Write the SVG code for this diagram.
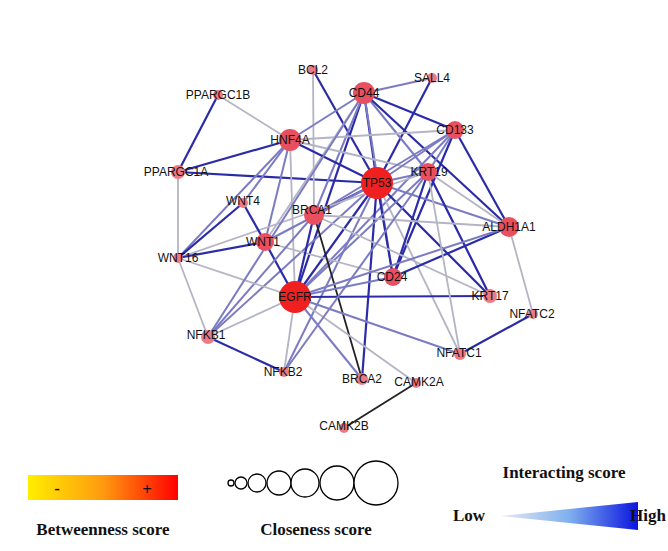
<svg xmlns="http://www.w3.org/2000/svg" width="668" height="551" viewBox="0 0 668 551">
<defs>
<linearGradient id="bw" x1="0" x2="1"><stop offset="0" stop-color="#ffee00"/><stop offset="0.5" stop-color="#ff9a10"/><stop offset="1" stop-color="#ff0000"/></linearGradient>
<linearGradient id="ig" x1="0" x2="1"><stop offset="0" stop-color="#e8ecf4"/><stop offset="0.5" stop-color="#7fb0ee"/><stop offset="1" stop-color="#0a14e0"/></linearGradient>
<style>
.d{stroke:#2b2ba8;stroke-width:2.2}
.m{stroke:#7b7bc4;stroke-width:2}
.l{stroke:#b4b4c4;stroke-width:1.8}
.k{stroke:#222;stroke-width:1.8}
.n{fill:#e85060}
.b{fill:#f02020}
.p{fill:#ec7a84}
text{font-family:"Liberation Sans",Arial,sans-serif;font-size:12px;fill:#111;text-anchor:middle}
.lg{font-family:"Liberation Serif","Times New Roman",serif;font-weight:bold;font-size:17px}
</style>
</defs>
<rect width="668" height="551" fill="#fff"/>
<g id="connectors" fill="none">
<line class="d" x1="218" y1="95" x2="178" y2="172"/>
<line class="l" x1="218" y1="95" x2="290" y2="140"/>
<line class="d" x1="178" y1="172" x2="290" y2="140"/>
<line class="d" x1="178" y1="172" x2="377" y2="183"/>
<line class="l" x1="178" y1="172" x2="178" y2="258"/>
<line class="d" x1="313" y1="70" x2="377" y2="183"/>
<line class="l" x1="313" y1="70" x2="314" y2="215"/>
<line class="m" x1="432" y1="78" x2="364" y2="93"/>
<line class="d" x1="432" y1="78" x2="377" y2="183"/>
<line class="d" x1="364" y1="93" x2="377" y2="183"/>
<line class="d" x1="364" y1="93" x2="455" y2="130"/>
<line class="m" x1="364" y1="93" x2="428" y2="172"/>
<line class="d" x1="364" y1="93" x2="509" y2="227"/>
<line class="m" x1="364" y1="93" x2="290" y2="140"/>
<line class="d" x1="364" y1="93" x2="295" y2="297"/>
<line class="m" x1="364" y1="93" x2="314" y2="215"/>
<line class="l" x1="364" y1="93" x2="265" y2="242"/>
<line class="m" x1="364" y1="93" x2="393" y2="277"/>
<line class="l" x1="290" y1="140" x2="455" y2="130"/>
<line class="d" x1="290" y1="140" x2="377" y2="183"/>
<line class="m" x1="290" y1="140" x2="178" y2="258"/>
<line class="m" x1="290" y1="140" x2="265" y2="242"/>
<line class="l" x1="290" y1="140" x2="295" y2="297"/>
<line class="l" x1="290" y1="140" x2="428" y2="172"/>
<line class="m" x1="455" y1="130" x2="377" y2="183"/>
<line class="d" x1="455" y1="130" x2="509" y2="227"/>
<line class="m" x1="455" y1="130" x2="295" y2="297"/>
<line class="d" x1="455" y1="130" x2="393" y2="277"/>
<line class="m" x1="455" y1="130" x2="314" y2="215"/>
<line class="m" x1="455" y1="130" x2="428" y2="172"/>
<line class="m" x1="377" y1="183" x2="428" y2="172"/>
<line class="d" x1="377" y1="183" x2="295" y2="297"/>
<line class="d" x1="377" y1="183" x2="393" y2="277"/>
<line class="d" x1="377" y1="183" x2="314" y2="215"/>
<line class="m" x1="377" y1="183" x2="509" y2="227"/>
<line class="d" x1="377" y1="183" x2="490" y2="296"/>
<line class="m" x1="377" y1="183" x2="208" y2="337"/>
<line class="m" x1="377" y1="183" x2="265" y2="242"/>
<line class="m" x1="377" y1="183" x2="284" y2="372"/>
<line class="d" x1="377" y1="183" x2="362" y2="379"/>
<line class="l" x1="377" y1="183" x2="460" y2="354"/>
<line class="l" x1="428" y1="172" x2="509" y2="227"/>
<line class="d" x1="428" y1="172" x2="490" y2="296"/>
<line class="m" x1="428" y1="172" x2="295" y2="297"/>
<line class="d" x1="428" y1="172" x2="393" y2="277"/>
<line class="l" x1="428" y1="172" x2="178" y2="258"/>
<line class="d" x1="243" y1="203" x2="178" y2="258"/>
<line class="d" x1="243" y1="203" x2="265" y2="242"/>
<line class="m" x1="243" y1="203" x2="290" y2="140"/>
<line class="d" x1="265" y1="242" x2="178" y2="258"/>
<line class="d" x1="265" y1="242" x2="295" y2="297"/>
<line class="l" x1="265" y1="242" x2="393" y2="277"/>
<line class="d" x1="314" y1="215" x2="295" y2="297"/>
<line class="k" x1="314" y1="215" x2="362" y2="379"/>
<line class="l" x1="314" y1="215" x2="509" y2="227"/>
<line class="l" x1="314" y1="215" x2="490" y2="296"/>
<line class="m" x1="314" y1="215" x2="208" y2="337"/>
<line class="d" x1="509" y1="227" x2="393" y2="277"/>
<line class="m" x1="509" y1="227" x2="295" y2="297"/>
<line class="l" x1="509" y1="227" x2="533" y2="314"/>
<line class="l" x1="178" y1="258" x2="208" y2="337"/>
<line class="l" x1="178" y1="258" x2="295" y2="297"/>
<line class="d" x1="295" y1="297" x2="490" y2="296"/>
<line class="l" x1="295" y1="297" x2="208" y2="337"/>
<line class="l" x1="295" y1="297" x2="284" y2="372"/>
<line class="m" x1="295" y1="297" x2="362" y2="379"/>
<line class="m" x1="295" y1="297" x2="460" y2="354"/>
<line class="l" x1="295" y1="297" x2="416" y2="383"/>
<line class="m" x1="295" y1="297" x2="393" y2="277"/>
<line class="d" x1="208" y1="337" x2="284" y2="372"/>
<line class="m" x1="208" y1="337" x2="364" y2="93"/>
<line class="m" x1="284" y1="372" x2="428" y2="172"/>
<line class="d" x1="460" y1="354" x2="533" y2="314"/>
<line class="l" x1="460" y1="354" x2="428" y2="172"/>
<line class="k" x1="416" y1="383" x2="344" y2="428"/>
</g>
<g id="nodes">
<g id="BCL2"><circle class="p" cx="313" cy="70" r="5"/><text x="313" y="74">BCL2</text></g>
<g id="SALL4"><circle class="p" cx="432" cy="78" r="5"/><text x="432" y="82">SALL4</text></g>
<g id="PPARGC1B"><circle class="p" cx="218" cy="95" r="5"/><text x="218" y="99">PPARGC1B</text></g>
<g id="CD44"><circle class="n" cx="364" cy="93" r="11"/><text x="364" y="97">CD44</text></g>
<g id="HNF4A"><circle class="n" cx="290" cy="140" r="11"/><text x="290" y="144">HNF4A</text></g>
<g id="CD133"><circle class="n" cx="455" cy="130" r="9"/><text x="455" y="134">CD133</text></g>
<g id="PPARGC1A"><circle class="p" cx="178" cy="172" r="7"/><text x="176" y="176">PPARGC1A</text></g>
<g id="TP53"><circle class="b" cx="377" cy="183" r="16"/><text x="377" y="187">TP53</text></g>
<g id="KRT19"><circle class="n" cx="428" cy="172" r="9"/><text x="429" y="176">KRT19</text></g>
<g id="WNT4"><circle class="p" cx="243" cy="203" r="5"/><text x="243" y="205">WNT4</text></g>
<g id="BRCA1"><circle class="n" cx="314" cy="215" r="10"/><text x="312" y="214">BRCA1</text></g>
<g id="ALDH1A1"><circle class="n" cx="509" cy="227" r="10"/><text x="509" y="231">ALDH1A1</text></g>
<g id="WNT1"><circle class="n" cx="265" cy="242" r="9"/><text x="263" y="246">WNT1</text></g>
<g id="WNT16"><circle class="p" cx="178" cy="258" r="5"/><text x="178" y="262">WNT16</text></g>
<g id="CD24"><circle class="n" cx="393" cy="277" r="9"/><text x="392" y="281">CD24</text></g>
<g id="EGFR"><circle class="b" cx="295" cy="297" r="16"/><text x="295" y="301">EGFR</text></g>
<g id="KRT17"><circle class="p" cx="490" cy="296" r="7"/><text x="490" y="300">KRT17</text></g>
<g id="NFATC2"><circle class="p" cx="533" cy="314" r="5"/><text x="532" y="318">NFATC2</text></g>
<g id="NFKB1"><circle class="p" cx="208" cy="337" r="7"/><text x="206" y="339">NFKB1</text></g>
<g id="NFATC1"><circle class="p" cx="460" cy="354" r="6"/><text x="459" y="357">NFATC1</text></g>
<g id="NFKB2"><circle class="p" cx="284" cy="372" r="5"/><text x="283" y="376">NFKB2</text></g>
<g id="BRCA2"><circle class="p" cx="362" cy="379" r="6"/><text x="362" y="383">BRCA2</text></g>
<g id="CAMK2A"><circle class="p" cx="416" cy="383" r="5"/><text x="419" y="386">CAMK2A</text></g>
<g id="CAMK2B"><circle class="p" cx="344" cy="428" r="5"/><text x="344" y="430">CAMK2B</text></g>
</g>
<g id="legend">
<rect x="28" y="475" width="150" height="25" fill="url(#bw)"/>
<text class="lg" x="57" y="494">-</text>
<text class="lg" x="147" y="495">+</text>
<text class="lg" x="103" y="535">Betweenness score</text>
<g fill="#fff" stroke="#000" stroke-width="1.3">
<circle cx="231" cy="483" r="3"/><circle cx="241" cy="483" r="6"/><circle cx="257" cy="483" r="9"/><circle cx="279" cy="483" r="12"/><circle cx="305" cy="483" r="14"/><circle cx="337" cy="483" r="17"/><circle cx="376" cy="483" r="22"/>
</g>
<text class="lg" x="316" y="535">Closeness score</text>
<text class="lg" x="564" y="478">Interacting score</text>
<polygon points="500,516 638,502 638,530" fill="url(#ig)"/>
<text class="lg" x="469" y="521">Low</text>
<text class="lg" x="648" y="521">High</text>
</g>
</svg>
